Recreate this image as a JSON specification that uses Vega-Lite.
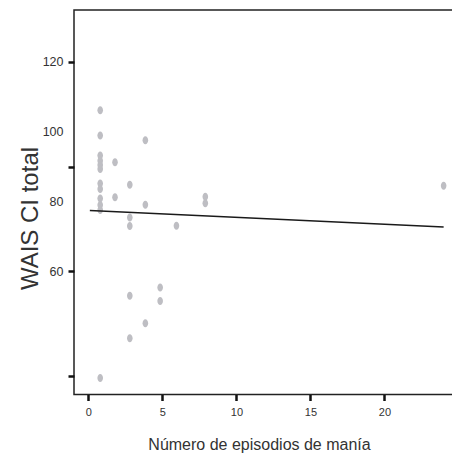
{
  "$schema": "https://vega.github.io/schema/vega-lite/v6.json",
  "autosize": "none",
  "padding": {"left": 74, "top": 10, "right": 0, "bottom": 64},
  "width": 380,
  "height": 384.5,
  "background": "white",
  "config": {
    "view": {"stroke": "#222222", "strokeWidth": 1.5},
    "font": "Liberation Sans",
    "axis": {"grid": false, "domain": false, "labelFont": "Liberation Sans", "titleFont": "Liberation Sans", "labelColor": "#333333", "titleColor": "#333333", "titleFontWeight": "normal", "tickColor": "#111111", "tickWidth": 2.5, "tickSize": 6}
  },
  "datasets": {
    "points": [
      {"episodios": 0.8, "wais": 106.2},
      {"episodios": 0.8, "wais": 98.9},
      {"episodios": 0.8, "wais": 93.2},
      {"episodios": 0.8, "wais": 91.7},
      {"episodios": 0.8, "wais": 90.5},
      {"episodios": 0.8, "wais": 89.3},
      {"episodios": 0.8, "wais": 85.2},
      {"episodios": 0.8, "wais": 83.6},
      {"episodios": 0.8, "wais": 80.9},
      {"episodios": 0.8, "wais": 79.0},
      {"episodios": 0.8, "wais": 77.6},
      {"episodios": 0.8, "wais": 29.4},
      {"episodios": 1.8, "wais": 91.3},
      {"episodios": 1.8, "wais": 81.2},
      {"episodios": 2.8, "wais": 84.8},
      {"episodios": 2.8, "wais": 75.4},
      {"episodios": 2.8, "wais": 73.0},
      {"episodios": 2.8, "wais": 53.0},
      {"episodios": 2.8, "wais": 40.8},
      {"episodios": 3.85, "wais": 97.6},
      {"episodios": 3.85, "wais": 79.1},
      {"episodios": 3.85, "wais": 45.1},
      {"episodios": 4.85, "wais": 55.4},
      {"episodios": 4.85, "wais": 51.5},
      {"episodios": 5.95, "wais": 73.1},
      {"episodios": 7.9, "wais": 81.4},
      {"episodios": 7.9, "wais": 79.5},
      {"episodios": 24, "wais": 84.5}
    ],
    "fit": [
      {"episodios": 0.1, "wais": 77.4},
      {"episodios": 24, "wais": 72.7}
    ]
  },
  "layer": [
    {
      "data": {"name": "points"},
      "mark": {"type": "point", "filled": true, "opacity": 1, "color": "#bebec3", "size": 64, "shape": "M0,-1A0.7,1,0,1,1,0,1A0.7,1,0,1,1,0,-1Z", "strokeWidth": 0},
      "encoding": {
        "x": {
          "field": "episodios", "type": "quantitative",
          "scale": {"domain": [-0.97, 24.7], "nice": false, "zero": false},
          "axis": {"values": [0, 5, 10, 15, 20], "title": "Número de episodios de manía", "titleFontSize": 16, "titleX": 185, "labelFontSize": 11, "labelPadding": 6, "titlePadding": 19, "labelFlush": false}
        },
        "y": {
          "field": "wais", "type": "quantitative",
          "scale": {"domain": [24.7, 134.9], "nice": false, "zero": false},
          "axis": {
            "values": [30, 60, 80, 90, 100, 120],
            "labelExpr": "datum.value == 30 || datum.value == 90 ? '' : datum.label",
            "tickOpacity": {"condition": {"test": "datum.value == 80 || datum.value == 100", "value": 0}, "value": 1},
            "title": "WAIS CI total", "titleFontSize": 24, "titleX": -32, "titleY": 208, "labelFontSize": 12.5, "labelPadding": 5
          }
        }
      }
    },
    {
      "data": {"name": "fit"},
      "mark": {"type": "line", "color": "#1a1a1a", "strokeWidth": 1.5},
      "encoding": {
        "x": {"field": "episodios", "type": "quantitative"},
        "y": {"field": "wais", "type": "quantitative"}
      }
    }
  ]
}
